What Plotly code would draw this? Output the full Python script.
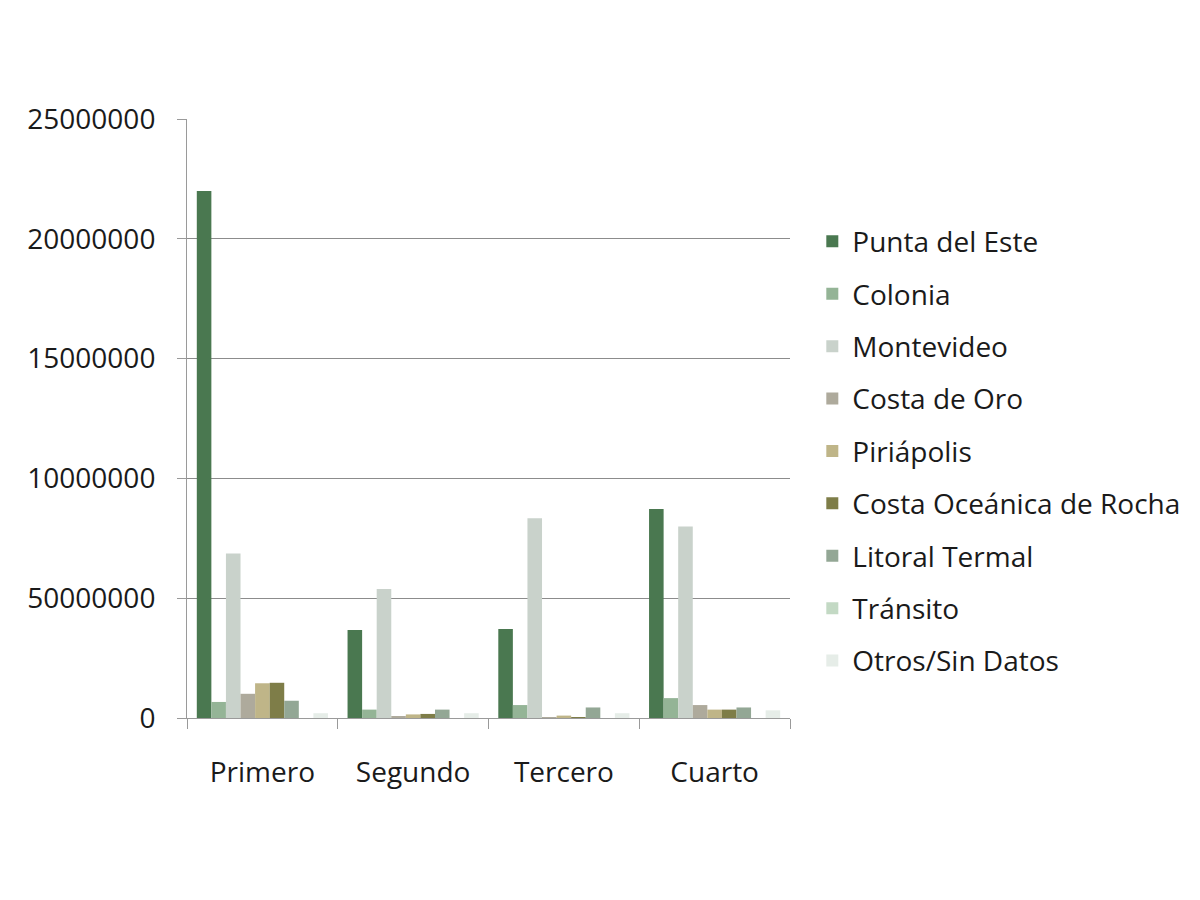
import plotly.graph_objects as go

categories = ["Primero", "Segundo", "Tercero", "Cuarto"]
series_names = ["Punta del Este", "Colonia", "Montevideo", "Costa de Oro", "Piriápolis",
                "Costa Oceánica de Rocha", "Litoral Termal", "Tránsito", "Otros/Sin Datos"]
punta_del_este = [22000000, 3670000, 3710000, 8720000]
colonia = [670000, 350000, 540000, 830000]
montevideo = [6870000, 5380000, 8340000, 7990000]
costa_de_oro = [1010000, 70000, 20000, 540000]
piriapolis = [1450000, 150000, 100000, 350000]
costa_oceanica = [1470000, 170000, 40000, 350000]
litoral_termal = [720000, 350000, 440000, 440000]
transito = [0, 0, 0, 0]
otros = [200000, 200000, 200000, 320000]
series_values = [punta_del_este, colonia, montevideo, costa_de_oro, piriapolis,
                 costa_oceanica, litoral_termal, transito, otros]
colors = ["#4a7850", "#94b496", "#c9d2cb", "#aeaa9c", "#bfb588",
          "#7e7d48", "#93a795", "#c3d9c4", "#e6ede8"]
y_tickvals = [0, 5000000, 10000000, 15000000, 20000000, 25000000]
y_ticktext = ["0", "50000000", "10000000", "15000000", "20000000", "25000000"]

FONT = "Open Sans"
FS = 28
fig = go.Figure()
for i, (name, vals) in enumerate(zip(series_names, series_values)):
    fig.add_trace(go.Bar(name=name, x=categories, y=vals, marker_color=colors[i],
                         marker_line_width=0, legendgroup=f"g{i}"))

fig.update_layout(
    width=1200, height=900,
    paper_bgcolor="white", plot_bgcolor="white",
    margin=dict(l=179, r=418, t=111, b=190),
    barmode="group", bargap=0.13, bargroupgap=0,
    font=dict(family=FONT, size=FS, color="#1a1a1a"),
    legend=dict(x=1.037, xanchor="left", y=0.837, yanchor="top",
                font=dict(family=FONT, size=FS, color="#1a1a1a"),
                tracegroupgap=13, bgcolor="rgba(0,0,0,0)"),
    xaxis=dict(showline=True, linecolor="#9a9a9a", linewidth=1,
               ticks="outside", tickson="boundaries", ticklen=10, tickcolor="#9a9a9a",
               tickfont=dict(family=FONT, size=FS), ticklabelstandoff=29, showgrid=False),
    yaxis=dict(range=[0, 25000000], tickvals=y_tickvals, ticktext=y_ticktext,
               showline=True, linecolor="#9a9a9a", linewidth=1,
               ticks="outside", ticklen=9, tickcolor="#9a9a9a",
               showgrid=True, gridcolor="#8c8c8c", gridwidth=1,
               tickfont=dict(family=FONT, size=FS), ticklabelstandoff=16,
               zeroline=False),
)
fig.write_html("out.html")
